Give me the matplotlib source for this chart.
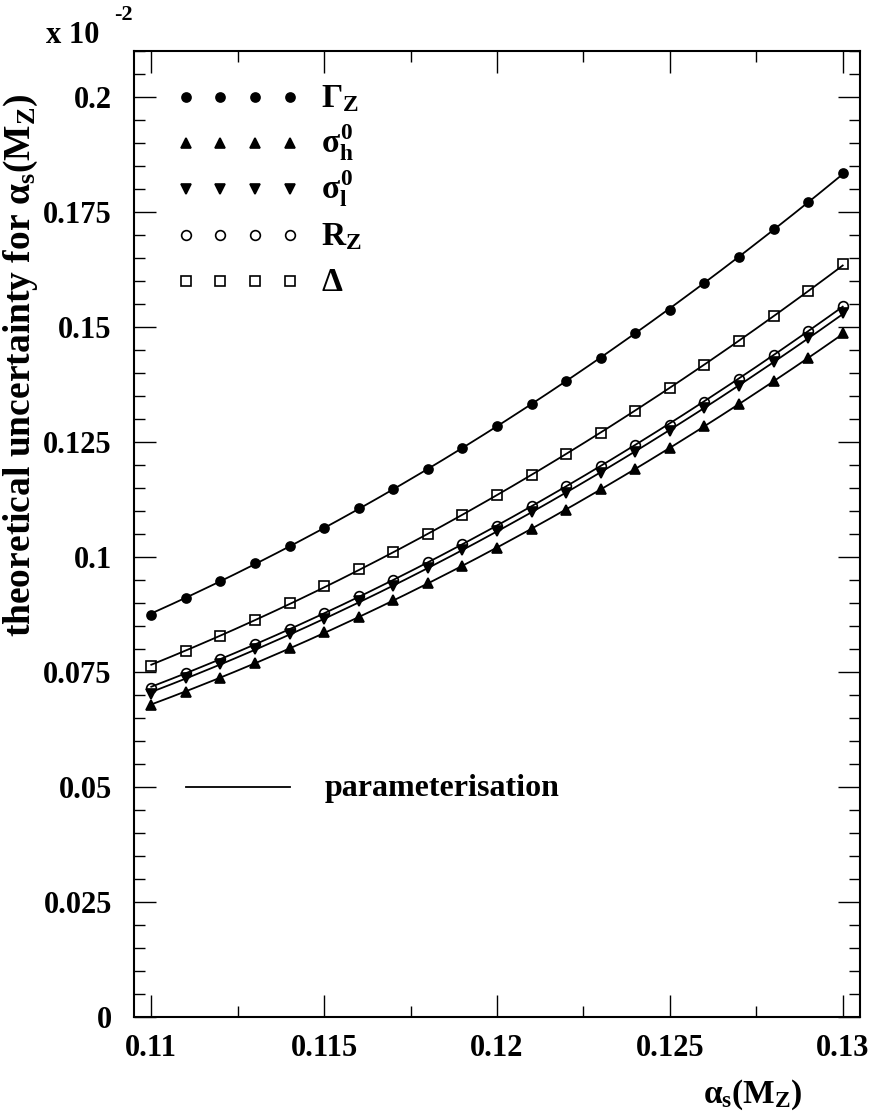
import numpy as np
import matplotlib
matplotlib.use("Agg")
import matplotlib.pyplot as plt
from matplotlib.ticker import MultipleLocator, FormatStrFormatter

# === DATA (units of 10^-2) ===
alpha_s = [0.110, 0.111, 0.112, 0.113, 0.114, 0.115, 0.116, 0.117, 0.118, 0.119, 0.120,
           0.121, 0.122, 0.123, 0.124, 0.125, 0.126, 0.127, 0.128, 0.129, 0.130]

gamma_z = [0.0875, 0.0911, 0.0947, 0.0986, 0.1024, 0.1064, 0.1106, 0.1148, 0.1192, 0.1238, 0.1284,
           0.1332, 0.1382, 0.1433, 0.1486, 0.1538, 0.1595, 0.1652, 0.1712, 0.1772, 0.1834]
sigma_h = [0.0678, 0.0707, 0.0738, 0.0770, 0.0802, 0.0836, 0.0870, 0.0907, 0.0943, 0.0980, 0.1020,
           0.1061, 0.1103, 0.1147, 0.1191, 0.1236, 0.1284, 0.1332, 0.1382, 0.1433, 0.1486]
sigma_l = [0.0703, 0.0736, 0.0767, 0.0799, 0.0833, 0.0866, 0.0904, 0.0938, 0.0976, 0.1015, 0.1057,
           0.1098, 0.1139, 0.1183, 0.1228, 0.1274, 0.1323, 0.1372, 0.1425, 0.1476, 0.1530]
r_z = [0.0716, 0.0747, 0.0778, 0.0811, 0.0843, 0.0879, 0.0915, 0.0951, 0.0989, 0.1028, 0.1068,
       0.1110, 0.1154, 0.1197, 0.1243, 0.1288, 0.1338, 0.1388, 0.1440, 0.1491, 0.1546]
delta = [0.0764, 0.0796, 0.0829, 0.0862, 0.0900, 0.0936, 0.0973, 0.1011, 0.1051, 0.1092, 0.1134,
         0.1179, 0.1223, 0.1270, 0.1317, 0.1367, 0.1418, 0.1469, 0.1524, 0.1578, 0.1636]

labels = [r"$\Gamma_{\mathbf{Z}}$",
          r"$\sigma^{\mathbf{0}}_{\mathbf{h}}$",
          r"$\sigma^{\mathbf{0}}_{\mathbf{l}}$",
          r"$\mathbf{R_{Z}}$",
          r"$\Delta$"]

# === STYLE ===
plt.rcParams.update({
    "font.family": ["Liberation Serif", "DejaVu Serif"],
    "font.weight": "bold",
    "mathtext.fontset": "custom",
    "mathtext.rm": "Liberation Serif",
    "mathtext.it": "Liberation Serif",
    "mathtext.bf": "Liberation Serif:bold",
})

# marker, facecolor, markersize
styles = [("o", "black", 6.5),
          ("^", "black", 6.5),
          ("v", "black", 6.5),
          ("o", "none", 7.0),
          ("s", "none", 7.0)]
series = [gamma_z, sigma_h, sigma_l, r_z, delta]

fig = plt.figure(figsize=(8.72, 11.14), dpi=100)
ax = fig.add_axes([134 / 872, 1 - 1017 / 1114, (860 - 134) / 872, (1017 - 51) / 1114])

x = np.array(alpha_s)
xs = np.linspace(x.min(), x.max(), 200)
for vals, (mk, fc, ms) in zip(series, styles):
    y = np.array(vals)
    coef = np.polyfit(x, y, 2)
    ax.plot(xs, np.polyval(coef, xs), "-", color="black", lw=1.3, zorder=2)
    ax.plot(x, y, linestyle="none", marker=mk, markerfacecolor=fc,
            markeredgecolor="black", markeredgewidth=1.2, markersize=ms, zorder=3)

# === LEGEND (drawn by hand, ROOT style) ===
leg_x = [0.111, 0.112, 0.113, 0.114]
leg_y = [0.200, 0.190, 0.180, 0.170, 0.160]
for (mk, fc, ms), yy, lab in zip(styles, leg_y, labels):
    ax.plot(leg_x, [yy] * len(leg_x), linestyle="none", marker=mk, markerfacecolor=fc,
            markeredgecolor="black", markeredgewidth=1.2, markersize=ms)
    ax.text(0.1149, yy - 0.0022, lab, fontsize=24, va="baseline", ha="left")

ax.plot([0.111, 0.114], [0.05, 0.05], "-", color="black", lw=1.3)
ax.text(0.115, 0.05 - 0.0019, "parameterisation", fontsize=23, fontweight="bold",
        va="baseline", ha="left")

# === AXES ===
ax.set_xlim(0.1095, 0.1305)
ax.set_ylim(0, 0.21)
ax.xaxis.set_major_locator(MultipleLocator(0.005))
ax.xaxis.set_minor_locator(MultipleLocator(0.0025))
ax.yaxis.set_major_locator(MultipleLocator(0.025))
ax.yaxis.set_minor_locator(MultipleLocator(0.005))
ax.xaxis.set_major_formatter(FormatStrFormatter("%g"))
ax.yaxis.set_major_formatter(FormatStrFormatter("%g"))
ax.tick_params(which="both", direction="in", top=True, right=True, width=1.0)
ax.tick_params(which="major", length=16)
ax.tick_params(which="minor", length=8)
ax.tick_params(axis="x", which="major", pad=12, labelsize=22)
ax.tick_params(axis="y", which="major", pad=16, labelsize=22)
for lab in ax.get_xticklabels() + ax.get_yticklabels():
    lab.set_fontweight("bold")
for sp in ax.spines.values():
    sp.set_linewidth(1.5)

fig.text(21 / 872, 1 - 93 / 1114, r"theoretical uncertainty for $\alpha_{\mathbf{s}}\mathbf{(M_{Z})}$",
         rotation=90, ha="center", va="top", fontsize=27, fontweight="bold")
fig.text(803 / 872, 1 - 1103 / 1114, r"$\alpha_{\mathbf{s}}\mathbf{(M_{Z})}$",
         ha="right", va="baseline", fontsize=24)
fig.text(46 / 872, 1 - 43 / 1114, "x 10", ha="left", va="baseline", fontsize=22, fontweight="bold")
fig.text(114 / 872, 1 - 20 / 1114, "-2", ha="left", va="baseline", fontsize=16, fontweight="bold")

fig.savefig("out.png", dpi=100)
